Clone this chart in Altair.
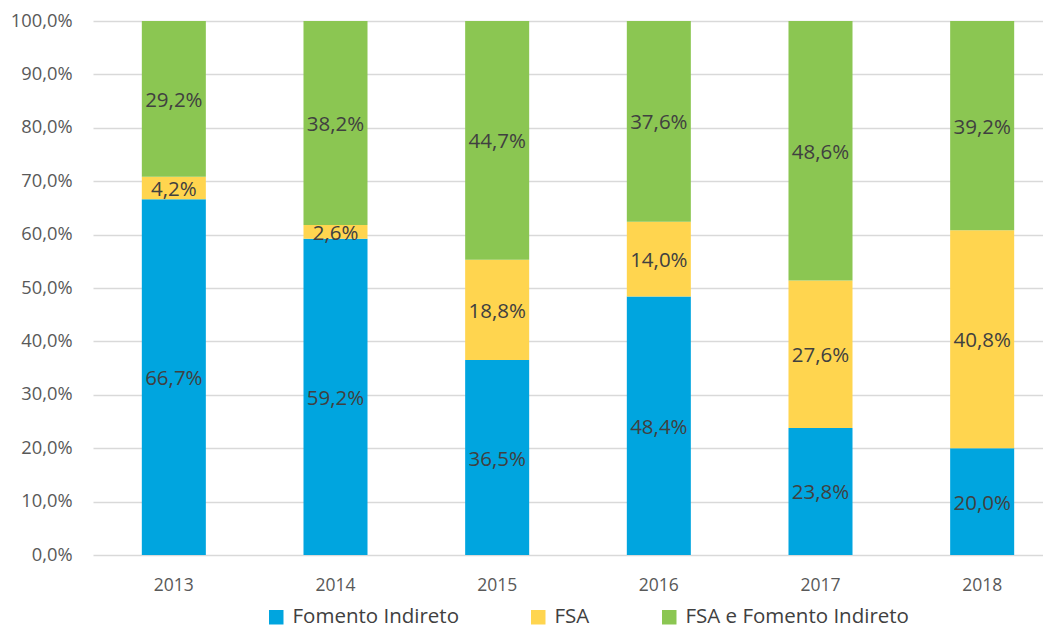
import altair as alt
import pandas as pd

years = ["2013", "2014", "2015", "2016", "2017", "2018"]
series = ["Fomento Indireto", "FSA", "FSA e Fomento Indireto"]
fomento_indireto = [66.7, 59.2, 36.5, 48.4, 23.8, 20.0]
fsa = [4.2, 2.6, 18.8, 14.0, 27.6, 40.8]
fsa_e_fomento = [29.2, 38.2, 44.7, 37.6, 48.6, 39.2]
colors = ["#00A5DF", "#FFD54F", "#8BC652"]
y_ticks = [i / 10 for i in range(11)]

rows = []
for i, y in enumerate(years):
    for k, (name, vals) in enumerate(zip(series, [fomento_indireto, fsa, fsa_e_fomento])):
        rows.append({"year": y, "series": name, "order": k, "value": vals[i]})
df = pd.DataFrame(rows)

FONT = "Open Sans"

base = alt.Chart(df).transform_stack(
    stack="value",
    groupby=["year"],
    as_=["y0", "y1"],
    offset="normalize",
    sort=[alt.SortField("order", order="ascending")],
).transform_calculate(
    mid="(datum.y0 + datum.y1) / 2",
    label="replace(format(datum.value / 100, '.1%'), '.', ',')",
)

x_enc = alt.X(
    "year:N",
    title=None,
    sort=years,
    scale=alt.Scale(range=[0, 970], paddingInner=0.604, paddingOuter=0.302),
    axis=alt.Axis(
        labelAngle=0, domain=False, ticks=False, labelPadding=21,
        labelFont=FONT, labelFontSize=17.5, labelColor="#595959",
    ),
)

bars = base.mark_bar().encode(
    x=x_enc,
    y=alt.Y(
        "y0:Q",
        title=None,
        scale=alt.Scale(domain=[0, 1], nice=False),
        axis=alt.Axis(
            values=y_ticks,
            labelExpr="replace(format(datum.value, '.1%'), '.', ',')",
            domain=False, ticks=False, tickSize=0, labelPadding=21,
            grid=True, gridColor="#D9D9D9", gridWidth=1.3,
            labelFont=FONT, labelFontSize=18.3, labelColor="#595959",
        ),
    ),
    y2="y1:Q",
    color=alt.Color(
        "series:N",
        sort=series,
        scale=alt.Scale(domain=series, range=colors),
        legend=alt.Legend(
            title=None,
            orient="none",
            direction="horizontal",
            legendX=173,
            legendY=586,
            symbolType="square",
            symbolSize=210,
            symbolStrokeWidth=0,
            symbolOffset=0,
            labelFont=FONT,
            labelFontSize=20.5,
            labelColor="#404040",
            labelOffset=6,
            columnPadding=69,
            gridAlign="none",
            labelLimit=300,
        ),
    ),
    order=alt.Order("order:Q"),
)

labels = base.mark_text(font=FONT, fontSize=20.5, color="#404040", dy=2).encode(
    x=alt.X("year:N", sort=years),
    y=alt.Y("mid:Q"),
    text="label:N",
)

chart = (
    alt.layer(bars, labels)
    .properties(
        width=950,
        height=534,
        autosize=alt.AutoSizeParams(type="none"),
        padding={"left": 85, "top": 13, "right": 0, "bottom": 78},
        background="white",
    )
    .configure_view(stroke=None)
)

chart.save("out.html", embed_options={"renderer": "svg", "actions": False})
